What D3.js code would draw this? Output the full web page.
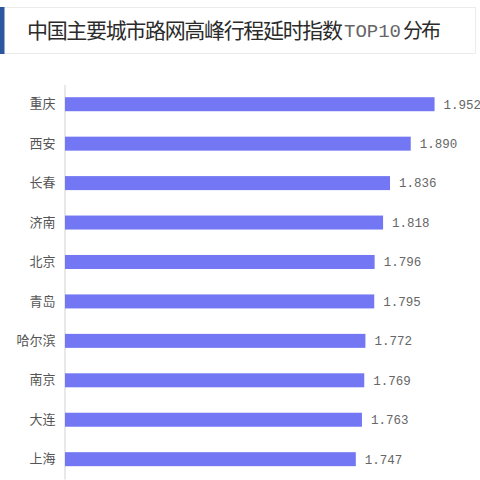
<!DOCTYPE html>
<html>
<head>
<meta charset="utf-8">
<script src="https://cdn.jsdelivr.net/npm/d3@7"></script>
<style>
  html, body { margin: 0; padding: 0; background: #fff; }
  svg { display: block; }
</style>
</head>
<body>
<script>
const titleMain = "中国主要城市路网高峰行程延时指数";
const titleMid = "TOP10";
const titleEnd = "分布";
const cities = ["重庆", "西安", "长春", "济南", "北京", "青岛", "哈尔滨", "南京", "大连", "上海"];
const values = [1.952, 1.890, 1.836, 1.818, 1.796, 1.795, 1.772, 1.769, 1.763, 1.747];
const valueLabels = ["1.952", "1.890", "1.836", "1.818", "1.796", "1.795", "1.772", "1.769", "1.763", "1.747"];

const W = 480, H = 480;
const svg = d3.select("body").append("svg").attr("width", W).attr("height", H);

// Title box
svg.append("rect").attr("x", 0.5).attr("y", 7.5).attr("width", 475).attr("height", 46)
  .attr("fill", "#fff").attr("stroke", "#ececec");
svg.append("rect").attr("x", 0).attr("y", 7).attr("width", 4.5).attr("height", 47).attr("fill", "#2d56a0");

svg.append("text").attr("x", 27).attr("y", 38)
  .style("font-family", "'Noto Sans CJK SC', sans-serif").style("font-size", "21px")
  .attr("fill", "#2b2b2b").attr("textLength", 316).attr("lengthAdjust", "spacing").text(titleMain);
svg.append("text").attr("x", 344).attr("y", 37)
  .style("font-family", "'Liberation Mono', monospace").style("font-size", "19px")
  .attr("fill", "#666").attr("textLength", 57).attr("lengthAdjust", "spacingAndGlyphs").text(titleMid);
svg.append("text").attr("x", 403).attr("y", 38)
  .style("font-family", "'Noto Sans CJK SC', sans-serif").style("font-size", "20px")
  .attr("fill", "#2b2b2b").attr("textLength", 38).attr("lengthAdjust", "spacing").text(titleEnd);

// Scales
const x = d3.scaleLinear().domain([0.99, 2]).range([65, 453]);
const y = d3.scaleBand().domain(cities).range([84.5, 478.9]);
const barH = 14;

// Axis
const yAxis = d3.axisLeft(y).tickSize(0).tickPadding(9);
const ag = svg.append("g").attr("transform", "translate(64.5,0)").call(yAxis);
ag.select(".domain").attr("stroke", "#d9d9d9").attr("stroke-width", 1.2);
ag.selectAll("text")
  .style("font-family", "'Noto Sans CJK SC', sans-serif")
  .style("font-size", "13px").attr("fill", "#555");

const data = cities.map((c, i) => ({ c, v: values[i], l: valueLabels[i] }));

svg.append("g").selectAll("rect").data(data).join("rect")
  .attr("x", x(0.99))
  .attr("y", d => y(d.c) + y.bandwidth() / 2 - barH / 2)
  .attr("width", d => x(d.v) - x(0.99))
  .attr("height", barH)
  .attr("fill", "#7377f4");

svg.append("g").selectAll("text").data(data).join("text")
  .attr("x", d => x(d.v) + 9)
  .attr("y", d => y(d.c) + y.bandwidth() / 2)
  .attr("dy", "0.35em")
  .style("font-family", "'Liberation Mono', monospace")
  .style("font-size", "12.5px")
  .attr("fill", "#666")
  .text(d => d.l);
</script>
</body>
</html>
